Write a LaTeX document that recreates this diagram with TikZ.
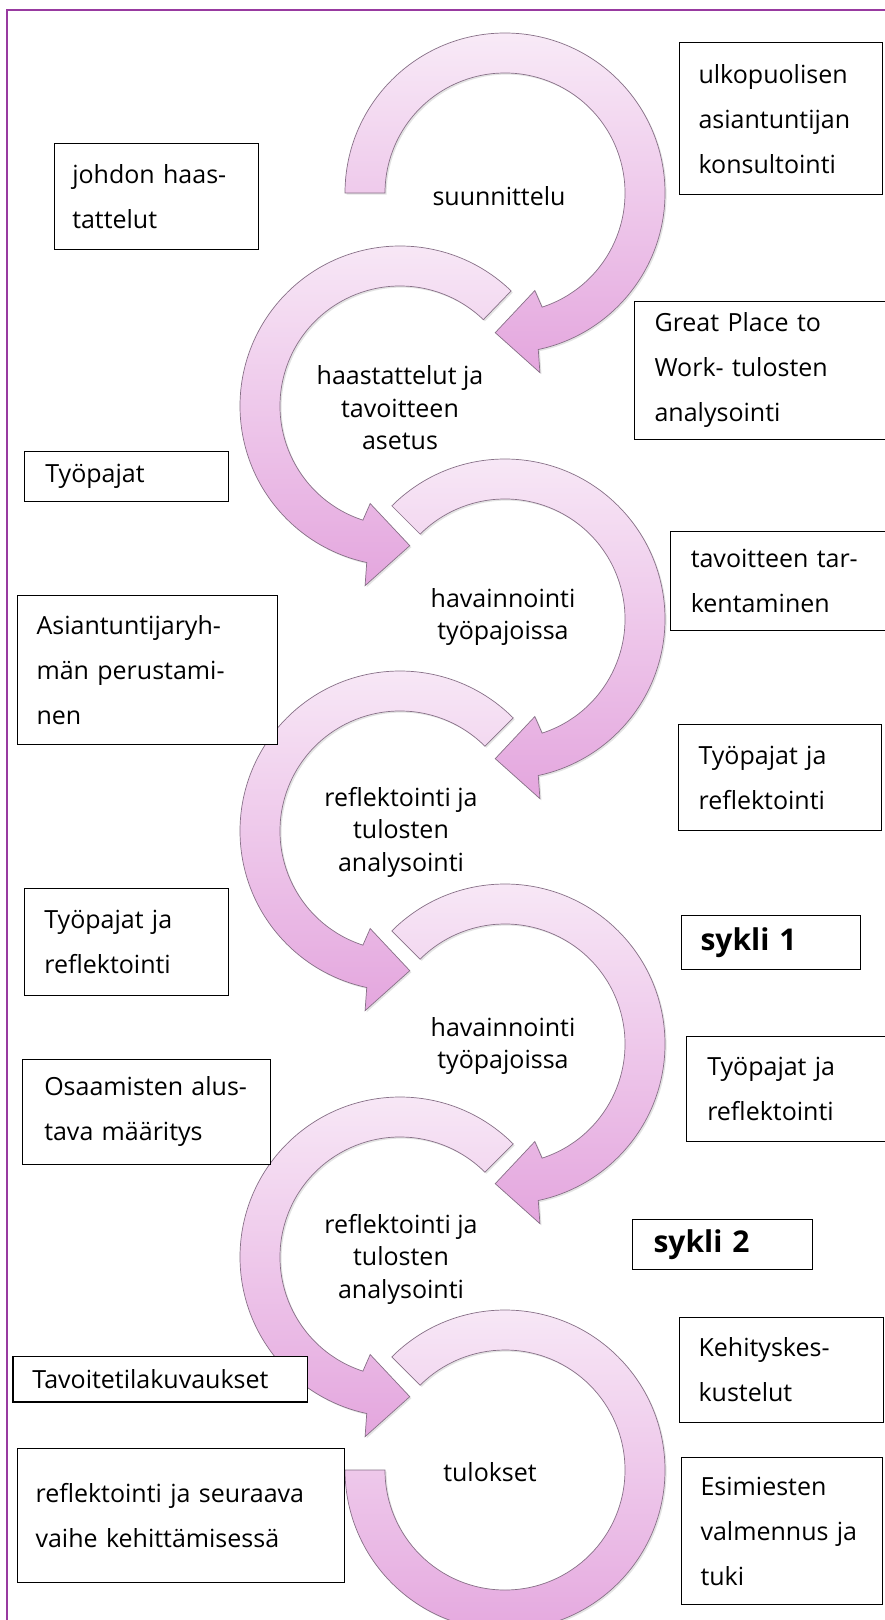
\documentclass[tikz,border=0pt]{standalone}
\usepackage{fontspec}
\setmainfont{Open Sans}
\usetikzlibrary{shadows}

\definecolor{framepurple}{RGB}{152,58,160}
\definecolor{ringlight}{RGB}{248,234,247}
\definecolor{ringdark}{RGB}{228,166,222}
\definecolor{ringedge}{RGB}{135,112,135}

\tikzset{
  ring/.style={top color=ringlight, bottom color=ringdark, draw=ringedge, line width=0.7pt,
    drop shadow={shadow xshift=1.6pt, shadow yshift=-1.6pt, opacity=0.22}},
  notebox/.style={draw=black, line width=1.1pt, fill=white, anchor=north west,
    align=left, inner ysep=0pt, font=\fontsize{25}{45}\selectfont},
  ringlabel/.style={align=center, inner sep=0pt, font=\fontsize{25}{32.5}\selectfont},
  cyclebox/.style={notebox, font=\bfseries\fontsize{30}{36}\selectfont},
}

\begin{document}
\begin{tikzpicture}[x=1pt,y=1pt]
\useasboundingbox (0,0) rectangle (885,-1620);
\clip (0,0) rectangle (885,-1620);
\fill[white] (0,0) rectangle (885,-1620);

% outer frame
\draw[framepurple, line width=2pt] (7,-10) rectangle (900,-1640);

% circular arrows, top to bottom
\path[ring, shift={(505,-193)}] (180:160) arc[start angle=180, end angle=-78, radius=160]
  -- (-79:183) -- (-94:140) -- (-73:102) -- (-72:120)
  arc[start angle=-72, end angle=180, radius=120] -- cycle;
\path[ring, shift={(400,-406)}] (46:160) arc[start angle=46, end angle=258, radius=160]
  -- (259:183) -- (274:140) -- (253:102) -- (252:120)
  arc[start angle=252, end angle=46, radius=120] -- cycle;
\path[ring, shift={(505,-619)}] (135:160) arc[start angle=135, end angle=-78, radius=160]
  -- (-79:183) -- (-94:140) -- (-73:102) -- (-72:120)
  arc[start angle=-72, end angle=135, radius=120] -- cycle;
\path[ring, shift={(400,-831)}] (45:160) arc[start angle=45, end angle=258, radius=160]
  -- (259:183) -- (274:140) -- (253:102) -- (252:120)
  arc[start angle=252, end angle=45, radius=120] -- cycle;
\path[ring, shift={(505,-1044)}] (135:160) arc[start angle=135, end angle=-78, radius=160]
  -- (-79:183) -- (-94:140) -- (-73:102) -- (-72:120)
  arc[start angle=-72, end angle=135, radius=120] -- cycle;
\path[ring, shift={(400,-1257)}] (45:160) arc[start angle=45, end angle=258, radius=160]
  -- (259:183) -- (274:140) -- (253:102) -- (252:120)
  arc[start angle=252, end angle=45, radius=120] -- cycle;
\path[ring, shift={(505,-1470)}] (135:160) arc[start angle=135, end angle=-180, radius=160]
  -- (-180:120) arc[start angle=-180, end angle=135, radius=120] -- cycle;

% phase labels inside the arrows
\node[ringlabel] (phase1) at (499,-196) {suunnittelu};
\node[ringlabel] (phase2) at (400,-408) {haastattelut ja\\tavoitteen\\asetus};
\node[ringlabel] (phase3) at (503,-617) {havainnointi\\työpajoissa};
\node[ringlabel] (phase4) at (401,-832) {reflektointi ja\\tulosten\\analysointi};
\node[ringlabel] (phase5) at (503,-1046) {havainnointi\\työpajoissa};
\node[ringlabel] (phase6) at (401,-1259) {reflektointi ja\\tulosten\\analysointi};
\node[ringlabel] (phase7) at (490,-1472) {tulokset};

% note boxes, left column
\node[notebox, minimum width=204.5pt, minimum height=106.4pt, inner xsep=18pt, text width=168.5pt]
  (johdon) at (53.7,-142.5) {johdon haas-\\tattelut};
\node[notebox, minimum width=204.4pt, minimum height=49.6pt, inner xsep=21pt, text width=162.4pt]
  (pajat) at (23.8,-451.3) {Työpajat};
\node[notebox, minimum width=260.3pt, minimum height=148.7pt, inner xsep=19.5pt, text width=221.3pt]
  (ryhma) at (16.5,-594.8) {Asiantuntijaryh-\\män perustami-\\nen};
\node[notebox, minimum width=204.4pt, minimum height=106.4pt, inner xsep=20pt, text width=164.4pt]
  (pajatL) at (23.8,-888.1) {Työpajat ja\\reflektointi};
\node[notebox, minimum width=247.8pt, minimum height=105.5pt, inner xsep=22pt, text width=203.8pt]
  (osaaminen) at (21.7,-1058.5) {Osaamisten alus-\\tava määritys};
\node[notebox, minimum width=294.3pt, minimum height=45.4pt, inner xsep=19.5pt, text width=255.3pt]
  (tavoitetila) at (12.4,-1356) {Tavoitetilakuvaukset};
\node[notebox, minimum width=327.4pt, minimum height=134.2pt, inner xsep=18.5pt, text width=290.4pt]
  (seuraava) at (16.5,-1447.8) {reflektointi ja seuraava\\vaihe kehittämisessä};

% note boxes, right column
\node[notebox, minimum width=203.5pt, minimum height=151.8pt, inner xsep=19.5pt, text width=164.5pt]
  (konsultointi) at (678.5,-42.3) {ulkopuolisen\\asiantuntijan\\konsultointi};
\node[notebox, minimum width=253pt, minimum height=138.4pt, inner xsep=20pt, text width=213pt]
  (gptw) at (634,-300.5) {Great Place to\\Work- tulosten\\analysointi};
\node[notebox, minimum width=217pt, minimum height=99.2pt, inner xsep=20pt, text width=177pt]
  (tarkennus) at (670.2,-530.8) {tavoitteen tar-\\kentaminen};
\node[notebox, minimum width=203.4pt, minimum height=106.4pt, inner xsep=20.5pt, text width=162.4pt]
  (pajatR1) at (677.5,-723.9) {Työpajat ja\\reflektointi};
\node[cyclebox, minimum width=179.7pt, minimum height=53.7pt, inner xsep=19.5pt, text width=140.7pt]
  (sykli1) at (680.5,-915) {sykli 1};
\node[notebox, minimum width=201.3pt, minimum height=105.3pt, inner xsep=21pt, text width=159.3pt]
  (pajatR2) at (685.7,-1035.8) {Työpajat ja\\reflektointi};
\node[cyclebox, minimum width=179.7pt, minimum height=50.6pt, inner xsep=21pt, text width=137.7pt]
  (sykli2) at (632,-1218.6) {sykli 2};
\node[notebox, minimum width=204.5pt, minimum height=105.4pt, inner xsep=19.5pt, text width=165.5pt]
  (kehitys) at (678.5,-1316.7) {Kehityskes-\\kustelut};
\node[notebox, minimum width=201.5pt, minimum height=146.6pt, inner xsep=19.5pt, text width=162.5pt]
  (valmennus) at (680.5,-1457.1) {Esimiesten\\valmennus ja\\tuki};
\end{tikzpicture}
\end{document}
